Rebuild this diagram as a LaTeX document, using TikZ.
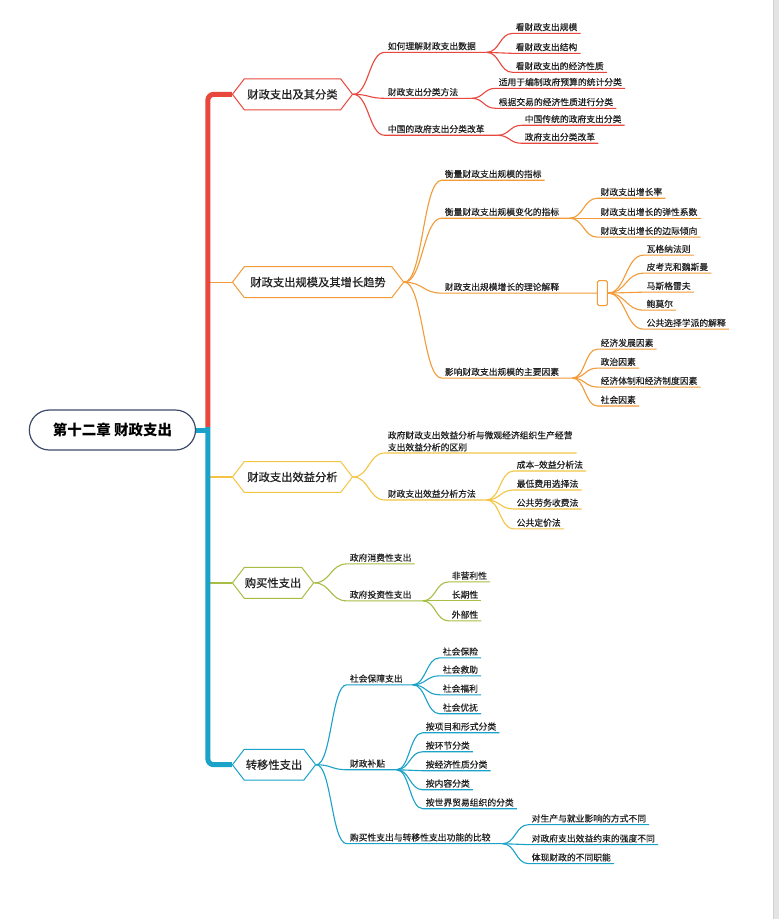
\documentclass[tikz,border=0pt]{standalone}
\usepackage{fontspec}
\setmainfont{Noto Sans CJK SC}
\newfontfamily\leaffont[FakeBold=0.35]{Noto Sans CJK SC}
\newfontfamily\mainfont[FakeBold=0.6]{Noto Sans CJK SC}
\usetikzlibrary{shapes.symbols,shapes.misc,calc}
\definecolor{cred}{HTML}{E8473D}
\definecolor{corange}{HTML}{F39B36}
\definecolor{cyellow}{HTML}{F4C544}
\definecolor{cgreen}{HTML}{A7BE45}
\definecolor{cblue}{HTML}{1AA2C8}
\definecolor{croot}{HTML}{3E4A6A}
\definecolor{ctext}{HTML}{222222}
\definecolor{cgray}{HTML}{E4E4E4}
\definecolor{cgrayd}{HTML}{D2D2D2}
\pgfdeclarelayer{bg}
\pgfsetlayers{bg,main}
\tikzset{
  curv/.style={to path={let \p1=(\tikztostart), \p2=(\tikztotarget), \n1={0.5*(\x2-\x1)} in .. controls +(\n1,0) and +(-\n1,0) .. (\tikztotarget) \tikztonodes}},
  lbl/.style={anchor=south west, inner xsep=3pt, inner ysep=1.5pt, text height=7pt, text depth=1.2pt, font=\leaffont\fontsize{8.8}{10.5}\selectfont, text=ctext},
  lblml/.style={anchor=south west, inner xsep=3pt, inner ysep=1.5pt, align=left, font=\leaffont\fontsize{8.8}{12}\selectfont, text=ctext},
  hexn/.style={signal, signal to=east and west, signal from=nowhere, signal pointer angle=105, draw, fill=white, line width=1pt, minimum height=31pt, inner xsep=3pt, anchor=west, font=\mainfont\fontsize{11.3}{13}\selectfont, text=ctext},
  rootn/.style={rounded rectangle, draw=croot, line width=1.2pt, fill=white, minimum width=173pt, minimum height=40pt, font=\bfseries\fontsize{14.5}{16}\selectfont, text=black},
  emptyn/.style={draw=corange, fill=white, line width=1pt, minimum width=10pt, minimum height=25pt, rounded corners=1.5pt, inner sep=0pt},
  ln/.style={line width=1.1pt},
  spine/.style={line width=5pt, rounded corners=6pt},
}
\begin{document}
\begin{tikzpicture}[x=1pt,y=-1pt]
\begin{pgfonlayer}{bg}
\fill[white] (0,0) rectangle (780,919);
\fill[cgray] (774,0) rectangle (780,919);
\draw[cgrayd, line width=0.8pt] (774.4,0) -- (774.4,919);
\end{pgfonlayer}
\path[use as bounding box] (0,0) rectangle (780,919);

% spine coordinates
\coordinate (sp) at (208,427);
\coordinate (s2) at (208,282);
\coordinate (s3) at (208,477);
\coordinate (s4) at (208,583);
\coordinate (sr) at (210,430);

% root and main nodes
\node[rootn] (root) at (112.5,430) {第十二章 财政支出};
\node[hexn, draw=cred] (m1) at (232,94) {财政支出及其分类};
\node[hexn, draw=corange, inner xsep=6pt] (m2) at (232,282) {财政支出规模及其增长趋势};
\node[hexn, draw=cyellow] (m3) at (232,477) {财政支出效益分析};
\node[hexn, draw=cgreen, inner xsep=0.5pt] (m4) at (232,583) {购买性支出};
\node[hexn, draw=cblue, inner xsep=1.5pt] (m5) at (232,765) {转移性支出};

% branch 1
\node[lbl] (a1) at (385,52) {如何理解财政支出数据};
\coordinate (h1a) at (487,52);
\node[lbl] (a1a) at (513,33) {看财政支出规模};
\node[lbl] (a1b) at (513,53) {看财政支出结构};
\node[lbl] (a1c) at (513,72) {看财政支出的经济性质};
\node[lbl] (a2) at (385,98) {财政支出分类方法};
\coordinate (h1b) at (472,98);
\node[lbl] (a2a) at (496,88) {适用于编制政府预算的统计分类};
\node[lbl] (a2b) at (496,108) {根据交易的经济性质进行分类};
\node[lbl] (a3) at (385,135) {中国的政府支出分类改革};
\coordinate (h1c) at (498,135);
\node[lbl] (a3a) at (522,125) {中国传统的政府支出分类};
\node[lbl] (a3b) at (522,143) {政府支出分类改革};

% branch 2
\node[lbl] (b1) at (442,180) {衡量财政支出规模的指标};
\node[lbl] (b2) at (442,218) {衡量财政支出规模变化的指标};
\coordinate (h2b) at (570,218);
\node[lbl] (b2a) at (598,198) {财政支出增长率};
\node[lbl] (b2b) at (598,218) {财政支出增长的弹性系数};
\node[lbl] (b2c) at (598,237) {财政支出增长的边际倾向};
\node[lbl] (b3) at (442,293) {财政支出规模增长的理论解释};
\node[emptyn] (r) at (603,293) {};
\node[lbl] (b3a) at (644,255) {瓦格纳法则};
\node[lbl] (b3b) at (644,273) {皮考克和魏斯曼};
\node[lbl] (b3c) at (644,292) {马斯格雷夫};
\node[lbl] (b3d) at (644,310) {鲍莫尔};
\node[lbl] (b3e) at (644,329) {公共选择学派的解释};
\node[lbl] (b4) at (442,378) {影响财政支出规模的主要因素};
\coordinate (h2d) at (573,378);
\node[lbl] (b4a) at (598,349) {经济发展因素};
\node[lbl] (b4b) at (598,368) {政治因素};
\node[lbl] (b4c) at (598,387) {经济体制和经济制度因素};
\node[lbl] (b4d) at (598,406) {社会因素};

% branch 3
\node[lblml] (c1) at (385,453) {政府财政支出效益分析与微观经济组织生产经营\\支出效益分析的区别};
\coordinate (h3a) at (577,453);
\node[lbl] (c2) at (385,500) {财政支出效益分析方法};
\coordinate (h3b) at (487,500);
\node[lbl] (c2a) at (514,471) {成本–效益分析法};
\node[lbl] (c2b) at (514,490) {最低费用选择法};
\node[lbl] (c2c) at (514,509) {公共劳务收费法};
\node[lbl] (c2d) at (514,529) {公共定价法};

% branch 4
\node[lbl] (d1) at (347,564) {政府消费性支出};
\node[lbl] (d2) at (347,601) {政府投资性支出};
\coordinate (h4b) at (423,601);
\node[lbl] (d2a) at (449,582) {非营利性};
\node[lbl] (d2b) at (449,601) {长期性};
\node[lbl] (d2c) at (449,621) {外部性};

% branch 5
\node[lbl] (e1) at (347,685) {社会保障支出};
\coordinate (h5a) at (413,685);
\node[lbl] (e1a) at (440,658) {社会保险};
\node[lbl] (e1b) at (440,676) {社会救助};
\node[lbl] (e1c) at (440,695) {社会福利};
\node[lbl] (e1d) at (440,714) {社会优抚};
\node[lbl] (e2) at (347,770) {财政补贴};
\coordinate (h5b) at (397,770);
\node[lbl] (e2a) at (423,733) {按项目和形式分类};
\node[lbl] (e2b) at (423,752) {按环节分类};
\node[lbl] (e2c) at (423,771) {按经济性质分类};
\node[lbl] (e2d) at (423,790) {按内容分类};
\node[lbl] (e2e) at (423,809) {按世界贸易组织的分类};
\node[lbl] (e3) at (347,844) {购买性支出与转移性支出功能的比较};
\coordinate (h5c) at (503,844);
\node[lbl] (e3a) at (529,825) {对生产与就业影响的方式不同};
\node[lbl] (e3b) at (529,845) {对政府支出效益约束的强度不同};
\node[lbl] (e3c) at (529,864) {体现财政的不同职能};

\begin{pgfonlayer}{bg}
% stubs and spine
\draw[corange, line width=1.3pt] (s2) -- (m2.west);
\draw[cyellow, line width=1.3pt] (s3) -- (m3.west);
\draw[cgreen, line width=1.3pt] (s4) -- (m4.west);
\draw[cblue, line width=5pt] (root.east) -- (sr);
\draw[cred, spine] (m1.west) -| (sp);
\draw[cblue, spine] (sp) |- (m5.west);

% branch 1
\draw[cred, ln] (m1.east) to[curv] (a1.south west) -- (h1a);
\draw[cred, ln] (m1.east) to[curv] (a2.south west) -- (h1b);
\draw[cred, ln] (m1.east) to[curv] (a3.south west) -- (h1c);
\foreach \c in {a1a,a1b,a1c}{\draw[cred, ln] (h1a) to[curv] (\c.south west) -- (\c.south east);}
\foreach \c in {a2a,a2b}{\draw[cred, ln] (h1b) to[curv] (\c.south west) -- (\c.south east);}
\foreach \c in {a3a,a3b}{\draw[cred, ln] (h1c) to[curv] (\c.south west) -- (\c.south east);}

% branch 2
\draw[corange, ln] (m2.east) to[curv] (b1.south west) -- (b1.south east);
\draw[corange, ln] (m2.east) to[curv] (b2.south west) -- (h2b);
\draw[corange, ln] (m2.east) to[curv] (b3.south west) -- (r.west);
\draw[corange, ln] (m2.east) to[curv] (b4.south west) -- (h2d);
\foreach \c in {b2a,b2b,b2c}{\draw[corange, ln] (h2b) to[curv] (\c.south west) -- (\c.south east);}
\foreach \c in {b3a,b3b,b3c,b3d,b3e}{\draw[corange, ln] (r.east) to[curv] (\c.south west) -- (\c.south east);}
\foreach \c in {b4a,b4b,b4c,b4d}{\draw[corange, ln] (h2d) to[curv] (\c.south west) -- (\c.south east);}

% branch 3
\draw[cyellow, ln] (m3.east) to[curv] (c1.south west) -- (h3a);
\draw[cyellow, ln] (m3.east) to[curv] (c2.south west) -- (h3b);
\foreach \c in {c2a,c2b,c2c,c2d}{\draw[cyellow, ln] (h3b) to[curv] (\c.south west) -- (\c.south east);}

% branch 4
\draw[cgreen, ln] (m4.east) to[curv] (d1.south west) -- (d1.south east);
\draw[cgreen, ln] (m4.east) to[curv] (d2.south west) -- (h4b);
\foreach \c in {d2a,d2b,d2c}{\draw[cgreen, ln] (h4b) to[curv] (\c.south west) -- (\c.south east);}

% branch 5
\draw[cblue, ln] (m5.east) to[curv] (e1.south west) -- (h5a);
\draw[cblue, ln] (m5.east) to[curv] (e2.south west) -- (h5b);
\draw[cblue, ln] (m5.east) to[curv] (e3.south west) -- (h5c);
\foreach \c in {e1a,e1b,e1c,e1d}{\draw[cblue, ln] (h5a) to[curv] (\c.south west) -- (\c.south east);}
\foreach \c in {e2a,e2b,e2c,e2d,e2e}{\draw[cblue, ln] (h5b) to[curv] (\c.south west) -- (\c.south east);}
\foreach \c in {e3a,e3b,e3c}{\draw[cblue, ln] (h5c) to[curv] (\c.south west) -- (\c.south east);}
\end{pgfonlayer}
\end{tikzpicture}
\end{document}
